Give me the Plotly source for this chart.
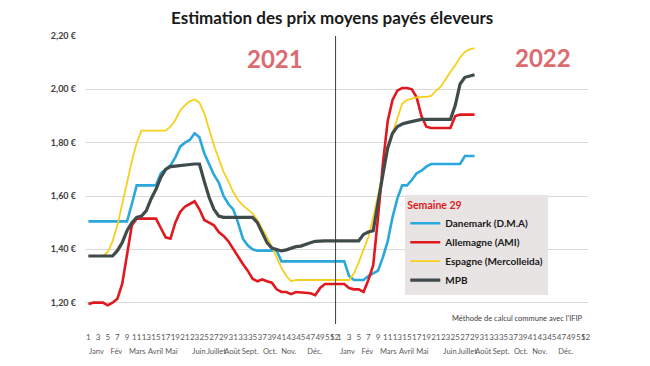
import plotly.graph_objects as go

# ---------------- data ----------------
weeks_2021 = list(range(1, 53))          # semaines 2021
weeks_2022 = list(range(1, 30))          # semaines 2022 (données jusqu'à S29)

week_tick_labels = [1, 3, 5, 7, 9, 11, 13, 15, 17, 19, 21, 23, 25, 27, 29, 31,
                    33, 35, 37, 39, 41, 43, 45, 47, 49, 51, 52]
month_labels = ["Janv", "Fév", "Mars", "Avril", "Mai", "Juin", "Juillet",
                "Août", "Sept.", "Oct.", "Nov.", "Déc."]
month_label_week = [2.66, 6.8, 11.1, 14.9, 18.2, 23.9, 27.5, 30.8, 34.5, 38.6, 42.5, 47.9]

price_ticks = [1.0, 1.2, 1.4, 1.6, 1.8, 2.0, 2.2]
price_tick_labels = ["1,00 €", "1,20 €", "1,40 €", "1,60 €", "1,80 €", "2,00 €", "2,20 €"]

danemark = [
    1.505, 1.505, 1.505, 1.505, 1.505, 1.505, 1.505, 1.505, 1.505, 1.57,
    1.64, 1.64, 1.64, 1.64, 1.64, 1.685, 1.70, 1.715, 1.745, 1.785,
    1.80, 1.81, 1.835, 1.82, 1.76, 1.72, 1.68, 1.65, 1.60, 1.57,
    1.55, 1.50, 1.44, 1.415, 1.40, 1.395, 1.395, 1.395, 1.395, 1.395,
    1.355, 1.355, 1.355, 1.355, 1.355, 1.355, 1.355, 1.355, 1.355, 1.355,
    1.355, 1.355,
    1.355, 1.355, 1.30, 1.285, 1.285, 1.285, 1.30, 1.31, 1.32, 1.37,
    1.43, 1.52, 1.59, 1.64, 1.64, 1.66, 1.685, 1.695, 1.71, 1.72,
    1.72, 1.72, 1.72, 1.72, 1.72, 1.72, 1.75, 1.75, 1.75]

allemagne = [
    1.195, 1.20, 1.20, 1.20, 1.19, 1.20, 1.215, 1.27, 1.38, 1.49,
    1.515, 1.515, 1.515, 1.515, 1.515, 1.48, 1.445, 1.44, 1.50, 1.54,
    1.56, 1.57, 1.58, 1.55, 1.51, 1.50, 1.49, 1.465, 1.45, 1.43,
    1.40, 1.37, 1.345, 1.32, 1.29, 1.28, 1.287, 1.28, 1.275, 1.25,
    1.24, 1.24, 1.232, 1.24, 1.238, 1.237, 1.235, 1.228, 1.255, 1.27,
    1.27, 1.27,
    1.27, 1.27, 1.255, 1.25, 1.25, 1.24, 1.285, 1.34, 1.52, 1.72,
    1.88, 1.96, 1.995, 2.005, 2.005, 2.0, 1.97, 1.90, 1.86, 1.855,
    1.855, 1.855, 1.855, 1.855, 1.90, 1.905, 1.905, 1.905, 1.905]

espagne = [
    1.375, 1.375, 1.375, 1.375, 1.39, 1.43, 1.49, 1.57, 1.66, 1.73,
    1.80, 1.845, 1.845, 1.845, 1.845, 1.845, 1.845, 1.86, 1.885, 1.92,
    1.94, 1.955, 1.962, 1.95, 1.91, 1.85, 1.79, 1.74, 1.69, 1.655,
    1.615, 1.585, 1.565, 1.55, 1.535, 1.51, 1.48, 1.445, 1.41, 1.37,
    1.33, 1.30, 1.28, 1.285, 1.285, 1.285, 1.285, 1.285, 1.285, 1.285,
    1.285, 1.285,
    1.285, 1.285, 1.285, 1.31, 1.35, 1.40, 1.445, 1.52, 1.60, 1.685,
    1.77, 1.835, 1.895, 1.947, 1.96, 1.965, 1.97, 1.972, 1.972, 1.975,
    1.995, 2.01, 2.04, 2.066, 2.09, 2.12, 2.14, 2.15, 2.155]

mpb = [
    1.375, 1.375, 1.375, 1.375, 1.375, 1.375, 1.395, 1.425, 1.47, 1.50,
    1.52, 1.525, 1.545, 1.59, 1.625, 1.67, 1.70, 1.71, 1.712, 1.715,
    1.716, 1.718, 1.72, 1.72, 1.655, 1.595, 1.55, 1.525, 1.52, 1.52,
    1.52, 1.52, 1.52, 1.52, 1.52, 1.50, 1.46, 1.425, 1.405, 1.398,
    1.394, 1.398, 1.405, 1.41, 1.412, 1.42, 1.425, 1.43, 1.432, 1.432,
    1.432, 1.432,
    1.432, 1.432, 1.432, 1.432, 1.432, 1.456, 1.465, 1.47, 1.58, 1.68,
    1.78, 1.835, 1.86, 1.87, 1.875, 1.88, 1.885, 1.887, 1.887, 1.887,
    1.887, 1.887, 1.887, 1.887, 1.94, 2.02, 2.045, 2.05, 2.055]

series_names = ["Danemark (D.M.A)", "Allemagne (AMI)", "Espagne (Mercolleida)", "MPB"]

# ---------------- helpers ----------------
n2021 = len(weeks_2021)
x_pos = [w - 1 for w in weeks_2021] + [n2021 + w - 1 for w in weeks_2022]

week_tickvals = [w - 1 for w in week_tick_labels] + [n2021 + w - 1 for w in week_tick_labels]
week_ticktext = [str(w) for w in week_tick_labels] * 2
month_tickvals = [m - 1 for m in month_label_week] + [n2021 + m - 1 for m in month_label_week]
month_ticktext = month_labels * 2

FONT = "Lato"
colors = ["#2aa7dd", "#e0181f", "#f7cf1d", "#404b4c"]
widths = [2.6, 2.6, 1.8, 3.2]
values = [danemark, allemagne, espagne, mpb]

fig = go.Figure()
for name, vals, col, w in zip(series_names, values, colors, widths):
    fig.add_trace(go.Scatter(x=x_pos, y=vals, mode="lines", name=name,
                             line=dict(color=col, width=w), hoverinfo="skip"))

# empty traces that carry the month axis and the bottom price label axis
fig.add_trace(go.Scatter(x=[], y=[], xaxis="x2", showlegend=False, hoverinfo="skip"))
fig.add_trace(go.Scatter(x=[], y=[], yaxis="y2", showlegend=False, hoverinfo="skip"))

xr = [-0.5, 2 * n2021 - 0.5]
yr = [price_ticks[0], price_ticks[-1]]
ytick_font = dict(family=FONT, size=9, color="#404040", weight="bold")

# the page body keeps its default 8px margin: the figure is sized so the page is 650x366
fig.update_layout(
    width=642, height=350,
    margin=dict(l=78, r=62, t=28, b=2),
    paper_bgcolor="white", plot_bgcolor="white",
    hovermode=False,
    font=dict(family=FONT, color="#404040"),
    title=dict(text="Estimation des prix moyens payés éleveurs",
               x=0.505, xanchor="center", y=0.971, yanchor="middle",
               font=dict(family=FONT, size=17, color="#1a1a1a", weight="bold")),
    xaxis=dict(range=xr, anchor="free", position=0.078,
               tickmode="array", tickvals=week_tickvals, ticktext=week_ticktext,
               tickangle=0, showgrid=False, zeroline=False, showline=False,
               ticks="", tickfont=dict(family=FONT, size=8, color="#595959")),
    xaxis2=dict(range=xr, overlaying="x", anchor="free", position=0.033, side="bottom",
                tickmode="array", tickvals=month_tickvals, ticktext=month_ticktext,
                tickangle=0, showgrid=False, zeroline=False, showline=False,
                ticks="", tickfont=dict(family=FONT, size=7.5, color="#595959")),
    yaxis=dict(range=yr, tickmode="array", tickvals=price_ticks[1:],
               ticktext=price_tick_labels[1:], showgrid=True, gridcolor="#d9d9d9",
               gridwidth=1, zeroline=False, showline=False, ticks="",
               ticklabelstandoff=9, tickfont=ytick_font),
    # the 1,00 € label sits on the very bottom edge: carried by an overlaid axis,
    # nudged up so it stays inside the page
    yaxis2=dict(range=yr, overlaying="y", side="left", tickmode="array",
                tickvals=price_ticks[:1], ticktext=price_tick_labels[:1],
                showgrid=False, zeroline=False, showline=False, ticks="",
                ticklabelstandoff=9, ticklabelshift=5, tickfont=ytick_font),
    legend=dict(x=0.636, y=0.503, xanchor="left", yanchor="top",
                bgcolor="#e7e4e3", borderwidth=0, itemwidth=30,
                font=dict(family=FONT, size=10, color="#1a1a1a", weight="bold"),
                title=dict(text="Semaine 29", side="top",
                           font=dict(family=FONT, size=10.5, color="#e0181f", weight="bold"))),
    showlegend=True,
)

# separation between the two years
fig.add_shape(type="line", xref="x", yref="y", x0=n2021 - 0.8, x1=n2021 - 0.8,
              y0=1.12, y1=2.2, line=dict(color="#404040", width=1))

fig.add_annotation(text="2021", x=38.7, y=2.117, xref="x", yref="y", showarrow=False,
                   font=dict(family=FONT, size=24, color="#dc6b70", weight="bold"))
fig.add_annotation(text="2022", x=94.2, y=2.121, xref="x", yref="y", showarrow=False,
                   font=dict(family=FONT, size=24, color="#dc6b70", weight="bold"))
fig.add_annotation(text="Méthode de calcul commune avec l'IFIP", x=88.8, y=1.142,
                   xref="x", yref="y", showarrow=False,
                   font=dict(family=FONT, size=7.5, color="#404040"))

fig.write_html("out.html", config={"displayModeBar": False})
